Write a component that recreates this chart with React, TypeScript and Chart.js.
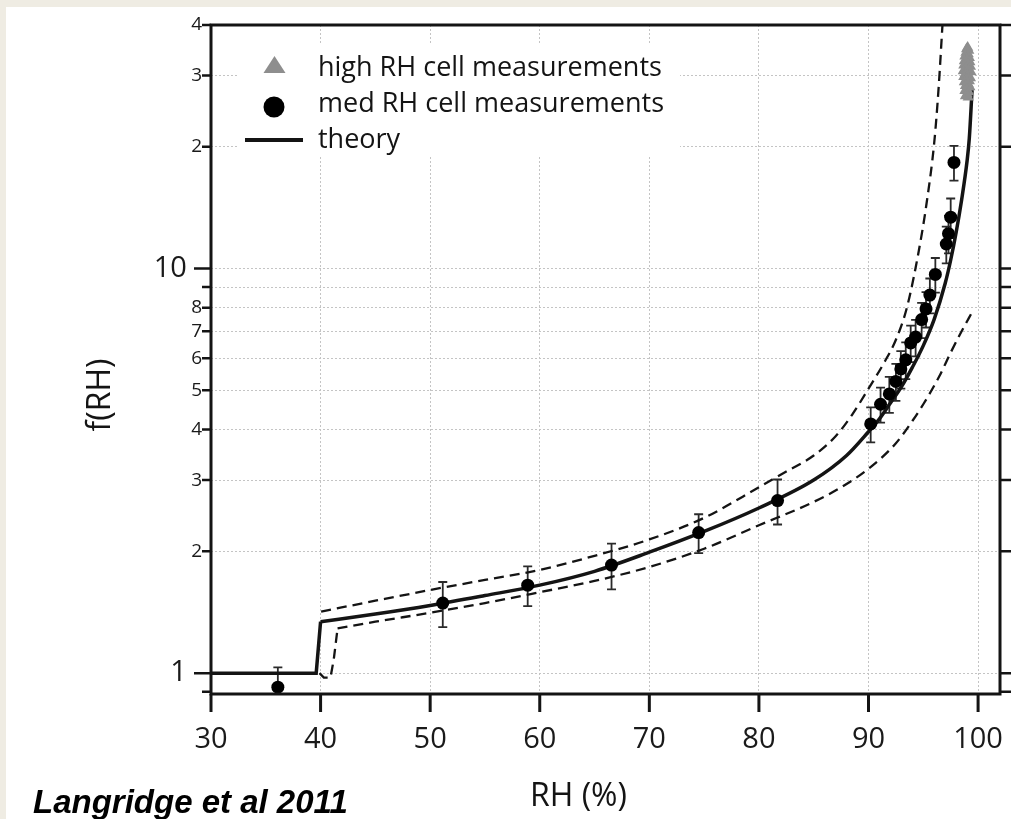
import { useEffect, useRef } from "react";
import { Chart, registerables } from "chart.js";

Chart.register(...registerables);

// ---- tick values ----
const xTicks = [30, 40, 50, 60, 70, 80, 90, 100];
const yTicks = [1, 2, 3, 4, 5, 6, 7, 8, 9, 10, 20, 30, 40];
const yExtraTicks = [0.9];

// ---- med RH cell measurements ----
const medRH = [36.1, 51.15, 58.9, 66.55, 74.5, 81.7, 90.2, 91.1, 91.9, 92.5, 92.95, 93.4, 93.85, 94.3, 94.85, 95.25, 95.6, 96.1, 97.1, 97.3, 97.5, 97.8];
const medF = [0.923, 1.49, 1.65, 1.85, 2.225, 2.67, 4.13, 4.62, 4.9, 5.26, 5.65, 5.95, 6.55, 6.77, 7.48, 7.95, 8.6, 9.67, 11.5, 12.2, 13.4, 18.3];
const medErr = [0.11, 0.19, 0.185, 0.24, 0.245, 0.34, 0.41, 0.46, 0.5, 0.55, 0.6, 0.62, 0.68, 0.7, 0.75, 0.8, 0.85, 0.95, 1.2, 1.3, 1.5, 1.8];

// ---- high RH cell measurements ----
const highRH = [99.05, 98.95, 99.15, 98.9, 99.1, 98.8, 99.2, 98.95, 98.75, 99.25, 99.05, 98.7, 99.3, 98.9, 99.15, 98.65, 99.35, 98.85, 99.05, 98.7, 99.3, 98.95, 99.2, 98.75, 99.1, 98.85, 99.25, 98.95, 98.8, 99.15, 99.0, 98.85, 99.1];
const highF = [35.2, 34.9, 34.6, 34.2, 33.9, 33.5, 33.2, 32.9, 32.6, 32.4, 32.1, 31.8, 31.6, 31.3, 31.0, 30.8, 30.6, 30.3, 30.1, 29.8, 29.6, 29.4, 29.1, 28.9, 28.6, 28.3, 28.1, 27.8, 27.5, 27.3, 27.0, 26.7, 26.5];

// ---- theory (solid) ----
const theoryStepRH = [30, 39.6, 40.0];
const theoryStepF = [1, 1, 1.34];
const theoryRH = [40, 45, 50, 55, 60, 65, 70, 75, 80, 85, 88, 90, 91, 92, 93, 94, 95, 96, 97, 97.5, 98, 98.5, 99, 99.2, 99.45];
const theoryF = [1.34, 1.4, 1.47, 1.555, 1.65, 1.785, 1.99, 2.24, 2.56, 3.0, 3.45, 3.95, 4.25, 4.65, 5.1, 5.7, 6.45, 7.5, 9.2, 10.5, 12.3, 14.8, 18.5, 21.0, 27.6];

// ---- upper dashed bound ----
const upperRH = [40.05, 45, 50, 55, 60, 65, 70, 75, 80, 82.5, 85, 87, 88.5, 90, 91.5, 92.5, 93.5, 94.6, 95.3, 96.0, 96.4, 96.75];
const upperF = [1.42, 1.51, 1.605, 1.7, 1.8, 1.95, 2.14, 2.42, 2.88, 3.15, 3.45, 3.85, 4.35, 5.05, 5.9, 6.67, 8.0, 11.1, 14.5, 20.5, 28, 40];

// ---- lower dashed bound ----
const lowerStepRH = [39.9, 40.3, 40.9, 41.2, 41.55];
const lowerStepF = [1.0, 0.975, 0.975, 1.08, 1.29];
const lowerRH = [41.55, 45, 50, 55, 60, 65, 70, 75, 80, 85, 87.5, 90, 92.5, 94, 95, 96.45, 97.5, 98.5, 99.5];
const lowerF = [1.29, 1.34, 1.41, 1.49, 1.585, 1.69, 1.83, 2.03, 2.32, 2.65, 2.88, 3.2, 3.7, 4.2, 4.62, 5.41, 6.2, 7.0, 7.84];

const pts = (xs: number[], ys: number[]) => xs.map((x, i) => ({ x, y: ys[i] }));

const INK = "#141414";
const FONT = "'Open Sans', 'DejaVu Sans', sans-serif";

const yLabel = (v: number) => {
  if (v === 1) return "1  ";
  if (v === 10) return "10  ";
  if (v === 9) return "";
  if (v >= 20) return String(v / 10);
  return String(v);
};

const decorPlugin = {
  id: "decor",
  beforeDatasetsDraw(chart: any) {
    const { ctx, chartArea: a, scales } = chart;
    const xs = scales.x, ys = scales.y;
    ctx.save();
    ctx.beginPath();
    ctx.rect(a.left, a.top, a.right - a.left, a.bottom - a.top);
    ctx.clip();
    ctx.strokeStyle = "#2a2a2a";
    ctx.lineWidth = 1.8;
    medRH.forEach((rh, i) => {
      const x = xs.getPixelForValue(rh);
      const yt = ys.getPixelForValue(medF[i] + medErr[i]);
      const yb = ys.getPixelForValue(medF[i] - medErr[i]);
      ctx.beginPath();
      ctx.moveTo(x, yt); ctx.lineTo(x, yb);
      ctx.moveTo(x - 4.5, yt); ctx.lineTo(x + 4.5, yt);
      ctx.moveTo(x - 4.5, yb); ctx.lineTo(x + 4.5, yb);
      ctx.stroke();
    });
    ctx.restore();
  },
  afterDraw(chart: any) {
    const { ctx, chartArea: a, scales } = chart;
    const xs = scales.x, ys = scales.y;
    ctx.save();
    // legend box
    ctx.fillStyle = "#ffffff";
    ctx.fillRect(232, 38, 442, 112);
    // legend symbols
    ctx.fillStyle = "#8e8e8e";
    ctx.beginPath();
    ctx.moveTo(268.5, 49); ctx.lineTo(279.5, 66); ctx.lineTo(257.5, 66); ctx.closePath();
    ctx.fill();
    ctx.fillStyle = "#000";
    ctx.beginPath();
    ctx.arc(268, 100, 10.5, 0, Math.PI * 2);
    ctx.fill();
    ctx.strokeStyle = INK;
    ctx.lineWidth = 4;
    ctx.beginPath();
    ctx.moveTo(239, 133); ctx.lineTo(297, 133);
    ctx.stroke();
    ctx.fillStyle = INK;
    ctx.font = `27px ${FONT}`;
    ctx.textAlign = "left";
    ctx.textBaseline = "alphabetic";
    ctx.fillText("high RH cell measurements", 312, 69);
    ctx.fillText("med RH cell measurements", 312, 105);
    ctx.fillText("theory", 312, 141);

    // frame
    ctx.strokeStyle = INK;
    ctx.lineWidth = 3;
    ctx.strokeRect(a.left, a.top, a.right - a.left, a.bottom - a.top);
    // x ticks
    xTicks.forEach((v) => {
      const x = xs.getPixelForValue(v);
      ctx.beginPath();
      ctx.moveTo(x, a.bottom); ctx.lineTo(x, a.bottom + 18);
      ctx.stroke();
    });
    // y ticks (left & right)
    ctx.lineWidth = 2.5;
    [...yExtraTicks, ...yTicks].forEach((v) => {
      const y = ys.getPixelForValue(v);
      const len = v === 1 || v === 10 ? 17 : 9;
      ctx.beginPath();
      ctx.moveTo(a.left, y); ctx.lineTo(a.left - len, y);
      ctx.moveTo(a.right, y); ctx.lineTo(a.right + 11, y);
      ctx.stroke();
    });

    // axis titles
    ctx.fillStyle = INK;
    ctx.font = `32px ${FONT}`;
    ctx.textAlign = "center";
    ctx.textBaseline = "alphabetic";
    ctx.fillText("RH (%)", 572.5, 799);
    ctx.save();
    ctx.translate(95, 388);
    ctx.rotate(-Math.PI / 2);
    ctx.textBaseline = "middle";
    ctx.fillText("f(RH)", 0, 0);
    ctx.restore();

    // citation
    ctx.fillStyle = "#000";
    ctx.font = `italic bold 33px 'Liberation Sans', Arial, sans-serif`;
    ctx.textAlign = "left";
    ctx.textBaseline = "alphabetic";
    ctx.fillText("Langridge et al 2011", 27, 806);
    ctx.restore();
  },
};

export default function App() {
  const ref = useRef<HTMLCanvasElement | null>(null);

  useEffect(() => {
    document.body.style.margin = "0";
    document.body.style.background = "#efece3";
    if (!ref.current) return;
    const lineBase = { showLine: true, pointRadius: 0, borderColor: INK, backgroundColor: INK, fill: false };
    const chart = new Chart(ref.current, {
      type: "scatter",
      data: {
        datasets: [
          {
            label: "med RH cell measurements",
            data: pts(medRH, medF),
            pointStyle: "circle",
            pointRadius: 6.5,
            backgroundColor: "#000",
            borderWidth: 0,
          },
          {
            label: "high RH cell measurements",
            data: pts(highRH, highF),
            pointStyle: "triangle",
            pointRadius: 6.5,
            backgroundColor: "#8e8e8e",
            borderColor: "#8e8e8e",
            borderWidth: 0,
          },
          { ...lineBase, label: "theory", data: pts(theoryStepRH, theoryStepF), borderWidth: 3.5, tension: 0 },
          { ...lineBase, label: "theory curve", data: pts(theoryRH, theoryF), borderWidth: 3.5, cubicInterpolationMode: "monotone" },
          { ...lineBase, label: "upper", data: pts(upperRH, upperF), borderWidth: 2.3, borderDash: [10, 6], cubicInterpolationMode: "monotone" },
          { ...lineBase, label: "lower step", data: pts(lowerStepRH, lowerStepF), borderWidth: 2.3, borderDash: [10, 6], tension: 0 },
          { ...lineBase, label: "lower", data: pts(lowerRH, lowerF), borderWidth: 2.3, borderDash: [10, 6], cubicInterpolationMode: "monotone" },
        ] as any,
      },
      options: {
        responsive: false,
        animation: false,
        devicePixelRatio: 1,
        layout: { padding: { top: 18, right: 11, left: 0, bottom: 0 } },
        plugins: { legend: { display: false }, tooltip: { enabled: false } },
        scales: {
          x: {
            type: "linear",
            min: 30,
            max: 102,
            afterBuildTicks: (s: any) => {
              s.ticks = xTicks.map((v) => ({ value: v }));
            },
            afterFit: (s: any) => {
              s.height = 125;
              s.paddingLeft = 0;
              s.paddingRight = 0;
            },
            grid: { color: "#c4c4c4", lineWidth: 1, drawTicks: false },
            border: { display: false, dash: [2, 2] },
            ticks: {
              padding: 31,
              autoSkip: false,
              maxRotation: 0,
              color: "#1a1a1a",
              font: { family: FONT, size: 29, lineHeight: 1 },
              callback: (v: any) => String(v),
            },
          },
          y: {
            type: "logarithmic",
            min: 0.888,
            max: 40,
            afterBuildTicks: (s: any) => {
              s.ticks = yTicks.map((v) => ({ value: v }));
            },
            afterFit: (s: any) => {
              s.width = 205;
              s.paddingTop = 0;
              s.paddingBottom = 0;
            },
            grid: { color: "#c4c4c4", lineWidth: 1, drawTicks: false },
            border: { display: false, dash: [2, 2] },
            ticks: {
              padding: 9,
              autoSkip: false,
              color: "#1a1a1a",
              font: (c: any) => ({
                family: FONT,
                size: c.tick && (c.tick.value === 1 || c.tick.value === 10) ? 29 : 19,
                lineHeight: 1,
              }),
              callback: (v: any) => yLabel(Number(v)),
            },
          },
        },
      } as any,
      plugins: [decorPlugin],
    });
    return () => chart.destroy();
  }, []);

  return (
    <div style={{ position: "absolute", left: 6, top: 7, width: 1005, height: 812, background: "#ffffff" }}>
      <canvas ref={ref} width={1005} height={812} style={{ width: 1005, height: 812, display: "block" }} />
    </div>
  );
}
